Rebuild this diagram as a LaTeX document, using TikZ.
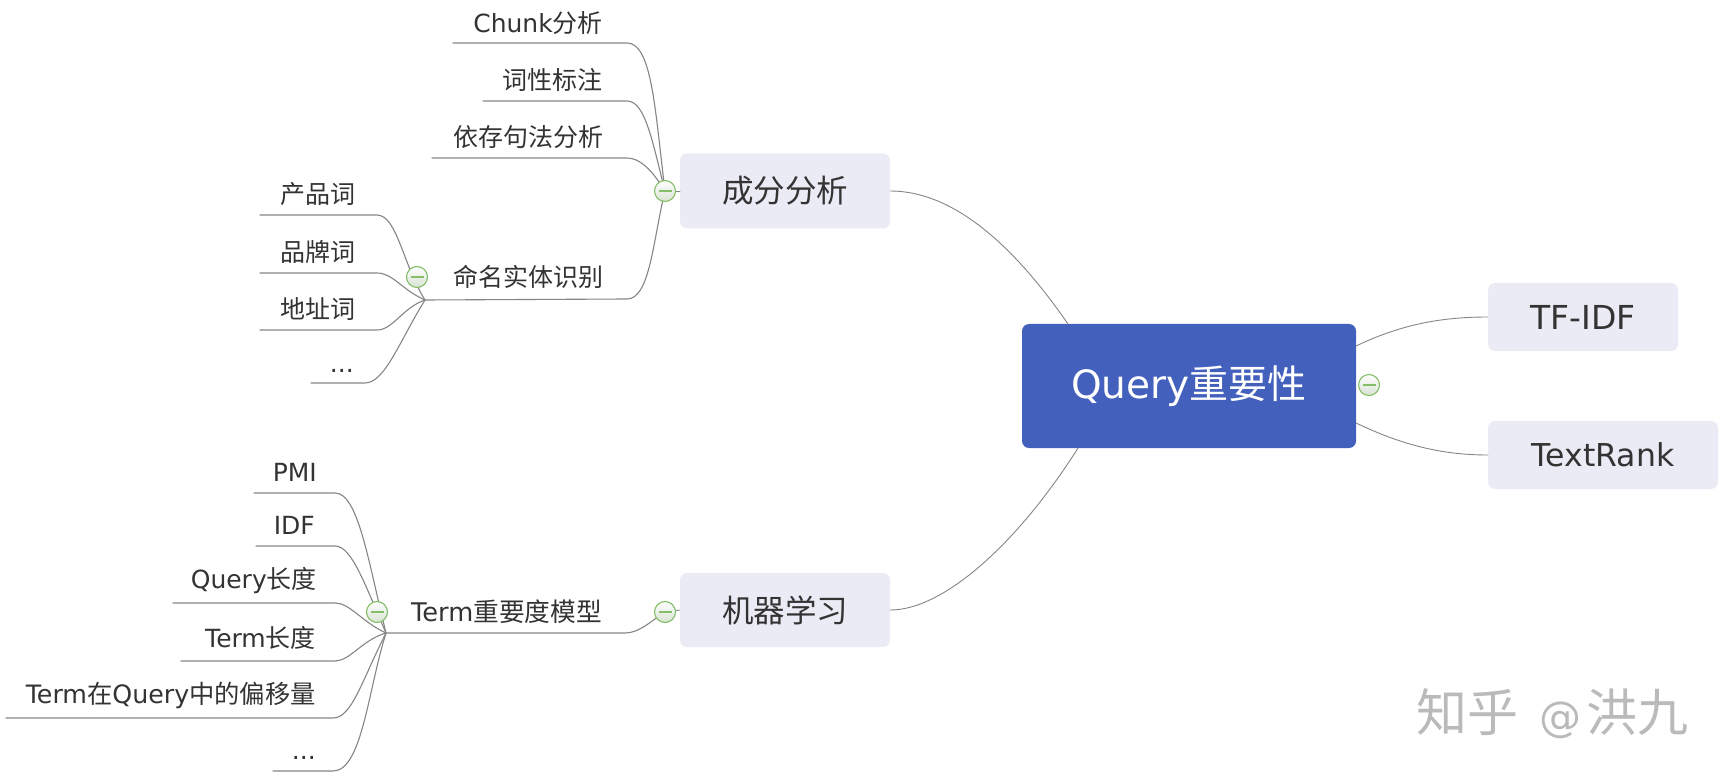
\documentclass[tikz,border=0pt]{standalone}
\usepackage{fontspec}
\setmainfont{DejaVu Sans}
\newfontfamily\cjk{Noto Sans CJK SC}
\newcommand{\Z}[1]{{\cjk #1}}
\definecolor{ink}{HTML}{333333}
\definecolor{linkc}{HTML}{858585}
\definecolor{rootc}{HTML}{4360BC}
\definecolor{boxc}{HTML}{EAEBF4}
\definecolor{minusc}{HTML}{84BE68}
\definecolor{togglelow}{HTML}{D9E2D4}
\definecolor{wmc}{HTML}{BABABA}
\tikzset{
  link/.style={draw=linkc,line width=1.1pt,line cap=round},
  thinlink/.style={draw=linkc,line width=0.9pt,line cap=round},
  leaf/.style={anchor=east,inner sep=0pt,text=ink,font=\fontsize{25}{25}\selectfont},
  branch/.style={fill=boxc,rounded corners=7pt,inner sep=0pt,text=ink},
  toggle/.style={circle,minimum size=21pt,inner sep=0pt,draw=minusc,line width=1.1pt,top color=white,bottom color=togglelow,
    path picture={\draw[minusc,line width=1.6pt] ([xshift=-6.5pt]path picture bounding box.center) -- ([xshift=6.5pt]path picture bounding box.center);}},
}
\begin{document}
\begin{tikzpicture}[x=1pt,y=-1pt]
\useasboundingbox (0,0) rectangle (1729,783);
% branch boxes
\node[branch,minimum width=210pt,minimum height=75pt,font=\fontsize{31.5}{32}\selectfont] (cf) at (785,191) {\Z{成分分析}};
\node[branch,minimum width=210pt,minimum height=74pt,font=\fontsize{31.5}{32}\selectfont] (jq) at (785,610) {\Z{机器学习}};
\node[fill=rootc,rounded corners=7pt,minimum width=334pt,minimum height=124pt,inner sep=0pt,text=white,font=\fontsize{39}{39}\selectfont] (root) at (1189,386) {Query\Z{重要性}};
\node[branch,minimum width=190pt,minimum height=68pt,font=\fontsize{33}{33}\selectfont] (tf) at (1583,317) {TF-IDF};
\node[branch,minimum width=230pt,minimum height=68pt,font=\fontsize{31.5}{32}\selectfont] (tr) at (1603,455) {TextRank};
% leaf texts
\node[leaf] (a1) at (603,23) {Chunk\Z{分析}};
\node[leaf] (a2) at (603,80) {\Z{词性标注}};
\node[leaf] (a3) at (604,137) {\Z{依存句法分析}};
\node[leaf] (a4) at (604,277) {\Z{命名实体识别}};
\node[leaf] (b1) at (356,194) {\Z{产品词}};
\node[leaf] (b2) at (356,252) {\Z{品牌词}};
\node[leaf] (b3) at (356,309) {\Z{地址词}};
\node[leaf] (b4) at (354,371) {...};
\node[leaf,font=\fontsize{25.7}{26}\selectfont] (c0) at (602,612) {Term\Z{重要度模型}};
\node[leaf] (c1) at (317,472) {PMI};
\node[leaf] (c2) at (315,525) {IDF};
\node[leaf] (c3) at (317,581) {Query\Z{长度}};
\node[leaf] (c4) at (316,638) {Term\Z{长度}};
\node[leaf,font=\fontsize{25.3}{26}\selectfont] (c5) at (316,695) {Term\Z{在}Query\Z{中的偏移量}};
\node[leaf] (c6) at (316,758) {...};
% anchors of the connectors
\coordinate (ja) at (665,191);
\coordinate (jb) at (425,300);
\coordinate (jc) at (386,633);
\coordinate (jd) at (665,612);
\coordinate (r1) at (1068,324);
\coordinate (r2) at (1078,448);
\coordinate (r3) at (1356,346);
\coordinate (r4) at (1356,423);
\coordinate (sa1) at (453,43);
\coordinate (sa2) at (483,101);
\coordinate (sa3) at (432,158);
\coordinate (ea4) at (627,299);
\coordinate (sb1) at (260,215);
\coordinate (sb2) at (260,273);
\coordinate (sb3) at (260,330);
\coordinate (sb4) at (311,383);
\coordinate (sc1) at (254,493);
\coordinate (sc2) at (256,546);
\coordinate (sc3) at (173,603);
\coordinate (sc4) at (181,661);
\coordinate (sc5) at (6,718);
\coordinate (sc6) at (273,771);
\coordinate (ec0) at (625,633);
% connectors
\draw[thinlink] (cf.east) .. controls +(60,0) and +(-58,-84) .. (r1);
\draw[thinlink] (jq.east) .. controls +(55,0) and +(-58,92) .. (r2);
\draw[thinlink] (r3) .. controls +(44,-21) and +(-48,0) .. (tf.west);
\draw[thinlink] (r4) .. controls +(44,21) and +(-48,0) .. (tr.west);
\draw[thinlink] (cf.west) -- (ja);
\draw[thinlink] (jd) -- (jq.west);
\draw[link] (sa1) -- ++(174,0) .. controls +(25,0) and +(-10,-81) .. (ja);
\draw[link] (sa2) -- ++(144,0) .. controls +(18,0) and +(-13,-51) .. (ja);
\draw[link] (sa3) -- ++(195,0) .. controls +(13,0) and +(-13,-21) .. (ja);
\draw[link] (jb) -- (ea4) .. controls +(23,0) and +(-12,49) .. (ja);
\draw[link] (sb1) -- ++(117,0) .. controls +(20,0) and +(-22,-35) .. (jb);
\draw[link] (sb2) -- ++(117,0) .. controls +(16,0) and +(-23,-10) .. (jb);
\draw[link] (sb3) -- ++(117,0) .. controls +(16,0) and +(-23,8) .. (jb);
\draw[link] (sb4) -- ++(54,0) .. controls +(20,0) and +(-25,40) .. (jb);
\draw[link] (sc1) -- ++(81,0) .. controls +(23,0) and +(-18,-73) .. (jc);
\draw[link] (sc2) -- ++(79,0) .. controls +(17,0) and +(-21,-48) .. (jc);
\draw[link] (sc3) -- ++(162,0) .. controls +(15,0) and +(-24,-11) .. (jc);
\draw[link] (sc4) -- ++(154,0) .. controls +(15,0) and +(-24,7) .. (jc);
\draw[link] (sc5) -- ++(327,0) .. controls +(19,0) and +(-24,47) .. (jc);
\draw[link] (sc6) -- ++(60,0) .. controls +(29,0) and +(-18,57) .. (jc);
\draw[link] (jc) -- (ec0) .. controls +(15,0) and +(-13,8) .. (jd);
% toggles
\node[toggle] (ma) at (665,191) {};
\node[toggle] (mb) at (417,277) {};
\node[toggle] (mc) at (377,612) {};
\node[toggle] (md) at (665,612) {};
\node[toggle] (me) at (1369,385) {};
% watermark
\node[anchor=west,inner sep=0pt,text=wmc,font=\fontsize{51}{51}\selectfont] (wm) at (1416,714) {\Z{知乎}\hspace{21pt}{\fontsize{42}{42}\selectfont @}\hspace{5pt}\Z{洪九}};
\end{tikzpicture}
\end{document}
